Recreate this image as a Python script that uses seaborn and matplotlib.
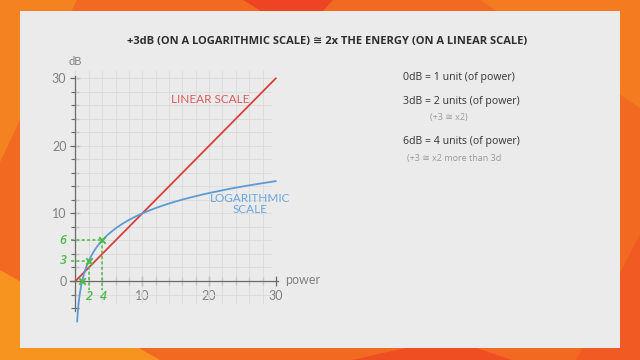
import matplotlib
matplotlib.use("Agg")
import matplotlib.pyplot as plt
from matplotlib.patches import Rectangle, Polygon
import seaborn as sns

# values
power_log = [0.25, 0.3, 0.35, 0.4, 0.45, 0.5, 0.6, 0.7, 0.8, 0.9, 1, 1.25, 1.5, 1.75,
             2, 2.5, 3, 3.5, 4, 4.5, 5, 6, 7, 8, 9, 10, 11, 12, 13, 14, 15, 16, 17,
             18, 19, 20, 21, 22, 23, 24, 25, 26, 27, 28, 29, 30]
db_log = [-6.02, -5.23, -4.56, -3.98, -3.47, -3.01, -2.22, -1.55, -0.97, -0.46, 0.00,
          0.97, 1.76, 2.43, 3.01, 3.98, 4.77, 5.44, 6.02, 6.53, 6.99, 7.78, 8.45,
          9.03, 9.54, 10.00, 10.41, 10.79, 11.14, 11.46, 11.76, 12.04, 12.30, 12.55,
          12.79, 13.01, 13.22, 13.42, 13.62, 13.80, 13.98, 14.15, 14.31, 14.47,
          14.62, 14.77]
power_lin = [0, 30]
db_lin = [0, 30]
mark_power = [1, 2, 4]
mark_db = [0, 3, 6]
x_labels = [10, 20, 30]
y_labels = [0, 10, 20, 30]
title = "+3dB (ON A LOGARITHMIC SCALE) \u2245 2x THE ENERGY (ON A LINEAR SCALE)"
notes = ["0dB = 1 unit (of power)", "3dB = 2 units (of power)", "(+3 \u2245 x2)",
         "6dB = 4 units (of power)", "(+3 \u2245 x2 more than 3d"]

sns.set_theme(style="white")
plt.rcParams['font.family'] = ['Open Sans', 'DejaVu Sans']

fig = plt.figure(figsize=(6.4, 3.6), dpi=100)
fig.patch.set_facecolor('#f26a22')

# orange backdrop shapes
shapes = [
    ([(0, 1), (0.12, 1), (0.0, 0.55)], '#f58220'),
    ([(0.38, 1), (0.52, 1), (0.47, 0.9)], '#ee4423'),
    ([(0.75, 1), (1, 1), (1, 0.7)], '#f47b20'),
    ([(0, 0), (0.25, 0), (0, 0.25)], '#f79420'),
    ([(0.55, 0), (0.8, 0), (0.7, 0.06)], '#ef4e23'),
    ([(1, 0), (1, 0.35), (0.9, 0)], '#f15a22'),
]
for pts, c in shapes:
    fig.patches.append(Polygon(pts, closed=True, transform=fig.transFigure,
                               facecolor=c, edgecolor='none', zorder=-2))
fig.patches.append(Rectangle((19.6 / 640, 1 - 348.3 / 360), (620.4 - 19.6) / 640,
                             (348.3 - 10.7) / 360, transform=fig.transFigure,
                             facecolor='#ebebeb', edgecolor='none', zorder=-1))

ax = fig.add_axes([0, 0, 1, 1])
ax.set_facecolor('none')
ax.set_xlim(-11.3, 84.5)
ax.set_ylim(-11.69, 41.57)

# paper grid
ax.vlines(range(0, 30, 2), -3.3, 31.2, color='#dadada', lw=0.6, zorder=1)
ax.hlines(range(-2, 31, 2), 0, 29.4, color='#dadada', lw=0.6, zorder=1)

sns.lineplot(x=power_lin, y=db_lin, ax=ax, color='#d8403c', lw=1.3, zorder=3)
sns.lineplot(x=power_log, y=db_log, ax=ax, color='#5b9bd5', lw=1.3, zorder=4)

# green guides
green = '#4cbb47'
for p, d in zip(mark_power[1:], mark_db[1:]):
    ax.plot([p, p], [d, -1.4], ls=(0, (2, 1.5)), color=green, lw=1.1, zorder=5)
    ax.plot([-0.6, p], [d, d], ls=(0, (2, 1.5)), color=green, lw=1.1, zorder=5)
    ax.text(p, -2.3, str(p), color=green, fontsize=9, fontweight='semibold',
            fontstyle='italic', ha='center', va='center', zorder=6)
    ax.text(-1.9, d, str(d), color=green, fontsize=9, fontweight='semibold',
            fontstyle='italic', ha='center', va='center', zorder=6)
sns.scatterplot(x=mark_power, y=mark_db, ax=ax, marker='x', color=green, s=22,
                linewidth=1.4, zorder=7)

# axes
for s in ['top', 'right']:
    ax.spines[s].set_visible(False)
ax.spines['left'].set_position(('data', 0))
ax.spines['bottom'].set_position(('data', 0))
ax.spines['left'].set_bounds(-4.5, 30.3)
ax.spines['bottom'].set_bounds(-0.8, 30.3)
for s in ['left', 'bottom']:
    ax.spines[s].set_color('#6a6a6a')
    ax.spines[s].set_linewidth(0.9)
    ax.spines[s].set_zorder(2)
ax.set_xticks(x_labels)
ax.set_xticklabels([str(v) for v in x_labels])
ax.set_yticks(y_labels)
ax.set_yticklabels([str(v) for v in y_labels])
ax.set_xticks(range(2, 31, 2), minor=True)
ax.set_yticks(range(-4, 31, 2), minor=True)
ax.tick_params(which='both', direction='inout', colors='#6a6a6a', labelcolor='#808080',
               labelsize=9, left=True, bottom=True)
ax.tick_params(which='major', length=7, width=0.9, pad=3)
ax.tick_params(which='minor', length=6, width=0.8)
for lab in ax.get_xticklabels() + ax.get_yticklabels():
    lab.set_fontfamily(['Lato', 'DejaVu Sans'])

ax.text(-0.1, 32.4, "dB", color='#808080', fontsize=8, ha='center', va='center',
        family=['Lato', 'DejaVu Sans'])
ax.text(31.4, 0.1, "power", color='#808080', fontsize=9, ha='left', va='center',
        family=['Lato', 'DejaVu Sans'])

ax.text(20.1, 26.9, "LINEAR SCALE", color='#dc5a5e', fontsize=8.5, ha='center',
        va='center', family=['Lato', 'DejaVu Sans'])
ax.text(26.1, 11.4, "LOGARITHMIC\nSCALE", color='#6aa6de', fontsize=8.5, ha='center',
        va='center', family=['Lato', 'DejaVu Sans'], linespacing=1.0)

ax.text(37.6, 35.5, title, color='#2e2e2e', fontsize=8.0, fontweight='bold',
        ha='center', va='center')

note_pos = [(49.0, 30.1, 7.6, '#333333'), (49.0, 26.5, 7.6, '#333333'),
            (53.0, 24.2, 6.5, '#9a9a9a'), (49.0, 20.6, 7.6, '#333333'),
            (49.6, 18.1, 6.5, '#9a9a9a')]
for txt, (x, y, fs, c) in zip(notes, note_pos):
    ax.text(x, y, txt, color=c, fontsize=fs, ha='left', va='center')

ax.set_xlabel('')
ax.set_ylabel('')
fig.savefig("out.png", dpi=100, facecolor=fig.get_facecolor())
